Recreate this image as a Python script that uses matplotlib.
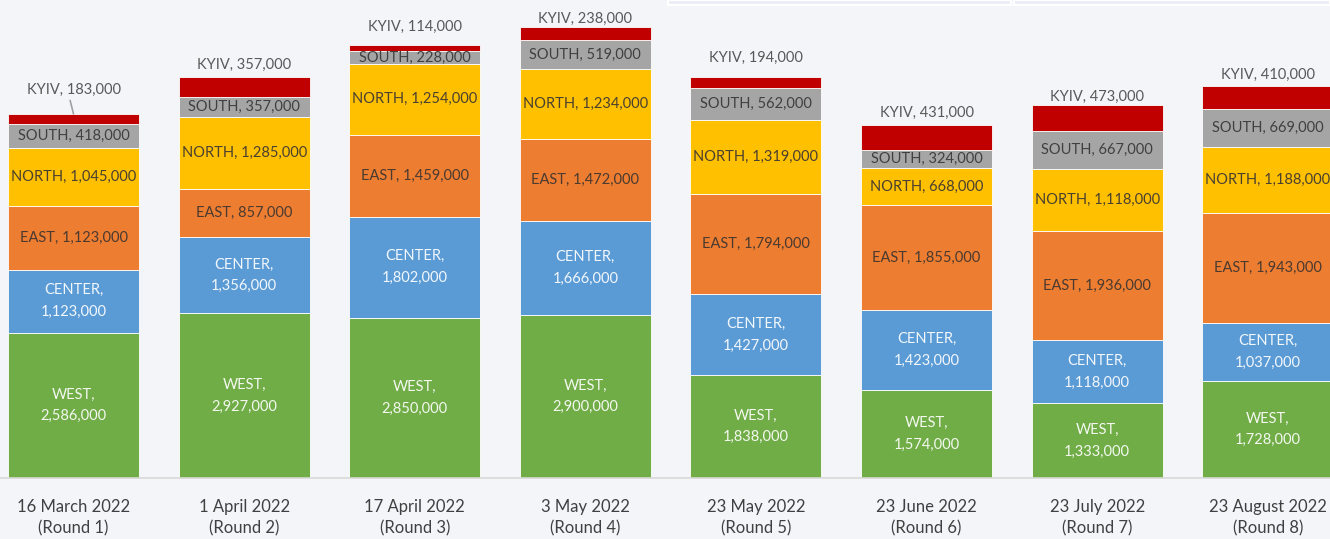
import matplotlib.pyplot as plt
from matplotlib.patches import Rectangle
import numpy as np

plt.rcParams['font.family'] = ['Lato', 'DejaVu Sans']

rounds = ['16 March 2022\n(Round 1)', '1 April 2022\n(Round 2)', '17 April 2022\n(Round 3)',
          '3 May 2022\n(Round 4)', '23 May 2022\n(Round 5)', '23 June 2022\n(Round 6)',
          '23 July 2022\n(Round 7)', '23 August 2022\n(Round 8)']
regions = ['WEST', 'CENTER', 'EAST', 'NORTH', 'SOUTH', 'KYIV']

west = [2586000, 2927000, 2850000, 2900000, 1838000, 1574000, 1333000, 1728000]
center = [1123000, 1356000, 1802000, 1666000, 1427000, 1423000, 1118000, 1037000]
east = [1123000, 857000, 1459000, 1472000, 1794000, 1855000, 1936000, 1943000]
north = [1045000, 1285000, 1254000, 1234000, 1319000, 668000, 1118000, 1188000]
south = [418000, 357000, 228000, 519000, 562000, 324000, 667000, 669000]
kyiv = [183000, 357000, 114000, 238000, 194000, 431000, 473000, 410000]

colors = ['#70AD47', '#5B9BD5', '#ED7D31', '#FFC000', '#A5A5A5', '#C00000']
text_colors = ['#F4F8F0', '#F2F7FC', '#4A3A30', '#4A4030', '#404040', '#595959']
two_line = [True, True, False, False, False, False]
# gap (points) between bar top and KYIV label
kyiv_offsets = [12, 3.6, 8, 0.7, 8.6, 3.6, 0.7, 3]

bg = '#F4F5F9'
fig = plt.figure(figsize=(13.3, 5.39), dpi=100, facecolor=bg)
ax = fig.add_axes([0, 61 / 539, 1, 478 / 539])
ax.set_facecolor(bg)

series = [west, center, east, north, south, kyiv]
x = np.arange(len(rounds))
bottom = np.zeros(len(rounds))
for name, vals, col, tcol, tl in zip(regions, series, colors, text_colors, two_line):
    vals = np.array(vals)
    ax.bar(x, vals, width=0.768, bottom=bottom, color=col, edgecolor='#FFFFFF',
           linewidth=0.6, zorder=2)
    for i, v in enumerate(vals):
        label = f'{name},\n{v:,}' if tl else f'{name}, {v:,}'
        if name == 'KYIV':
            ax.annotate(label, (x[i], bottom[i] + v), xytext=(0, kyiv_offsets[i]),
                        textcoords='offset points', ha='center', va='bottom',
                        fontsize=10.5, color=tcol)
        else:
            ax.text(x[i], bottom[i] + v / 2, label, ha='center', va='center',
                    fontsize=10.5, color=tcol, linespacing=1.7)
    bottom = bottom + vals

# leader line for round 1 KYIV label
ax.annotate('', xy=(x[0], bottom[0]), xytext=(x[0] - 0.02, bottom[0] + 240000),
            arrowprops=dict(arrowstyle='-', color='#A0A0A0', lw=1.2,
                            shrinkA=0, shrinkB=0))

ax.set_xlim(-0.431, 7.365)
ax.set_ylim(0, 8.505e6)
ax.set_yticks([])
ax.set_xticks(x)
ax.set_xticklabels(rounds, fontsize=12, color='#404040', linespacing=1.45)
ax.tick_params(axis='x', length=0, pad=15)
for s in ['top', 'left', 'right']:
    ax.spines[s].set_visible(False)
ax.spines['bottom'].set_color('#D9D9D9')
ax.spines['bottom'].set_linewidth(1.2)

# partially visible boxes at the top edge
fig.patches.append(Rectangle((668 / 1330, 1 - 5 / 539), 343 / 1330, 5 / 539,
                             transform=fig.transFigure, facecolor='#ECEEF5',
                             edgecolor='white', linewidth=1.5))
fig.patches.append(Rectangle((1014 / 1330, 1 - 5 / 539), 316 / 1330, 5 / 539,
                             transform=fig.transFigure, facecolor='#ECEEF5',
                             edgecolor='white', linewidth=1.5))

fig.savefig('out.png', dpi=100, facecolor=bg)
